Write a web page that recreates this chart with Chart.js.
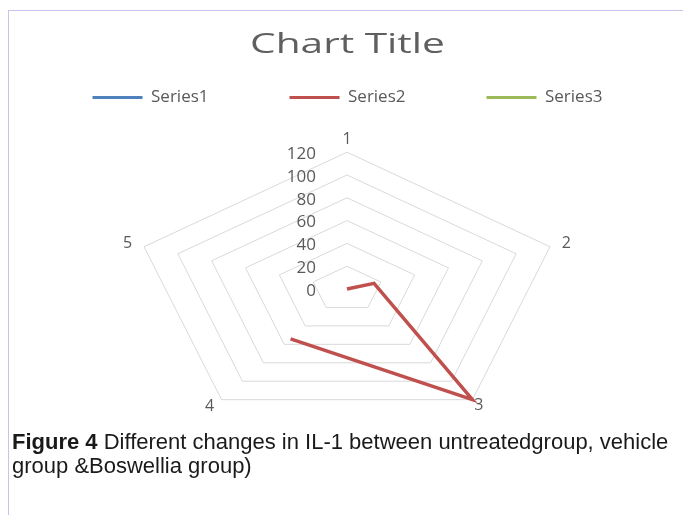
<!DOCTYPE html>
<html>
<head>
<meta charset="utf-8">
<script src="https://cdn.jsdelivr.net/npm/chart.js@4/dist/chart.umd.min.js"></script>
<style>
    html, body { margin: 0; padding: 0; background: #fff; overflow: hidden; width: 683px; height: 515px; }
    #frame { position: absolute; left: 8px; top: 10px; right: 0; bottom: 0; border-top: 1px solid #c4c4ee; border-left: 1px solid #c4c4ee; }
    #wrap { position: absolute; left: 6px; top: 0; width: 683px; height: 439px; }
    #caption { position: absolute; left: 12px; top: 430px; width: 671px; font-family: "Liberation Sans", Arial, sans-serif; font-size: 22px; line-height: 24px; color: #1a1a1a; white-space: nowrap; }
</style>
</head>
<body>
<div id="frame"></div>
<div id="wrap"><canvas id="radarChart"></canvas></div>
<div id="caption"><b>Figure 4</b> Different changes in IL-1 between untreatedgroup, vehicle<br>group &amp;Boswellia group)</div>

<script>
const categories = ['1', '2', '3', '4', '5'];
const series1 = [null, null, null, null, null];
const series2 = [0, 16, 120, 54, null];
const series3 = [null, null, null, null, null];
const tickValues = [0, 20, 40, 60, 80, 100, 120];

// the picture is an Excel radar squeezed into a wide box, so the polygon is wider than tall
const X_STRETCH = 1.56;
const TITLE_STRETCH = 1.45;
const RadialScale = Chart.registry.getScale('radialLinear');
const basePointPosition = RadialScale.prototype.getPointPosition;
RadialScale.prototype.getPointPosition = function (index, distance, extraAngle) {
    const p = basePointPosition.call(this, index, distance, extraAngle);
    return { x: this.xCenter + (p.x - this.xCenter) * X_STRETCH, y: p.y, angle: p.angle };
};

// Excel puts the value labels to the left of the first spoke, 0 included
const tickLabels = {
    id: 'tickLabels',
    afterDraw(chart) {
        const scale = chart.scales.r;
        const ctx = chart.ctx;
        ctx.save();
        ctx.font = '17px "Open Sans"';
        ctx.fillStyle = '#595959';
        ctx.textAlign = 'right';
        ctx.textBaseline = 'middle';
        scale.ticks.forEach(t => {
            const y = scale.yCenter - scale.getDistanceFromCenterForValue(t.value);
            ctx.fillText(t.label, scale.xCenter - 31, y + 2);
        });
        ctx.restore();
    }
};

// title text is stretched sideways like the rest of the picture
const wideTitle = {
    id: 'wideTitle',
    beforeDraw(chart) {
        const box = chart.titleBlock;
        if (!box || box._wide) return;
        const draw = box.draw.bind(box);
        box.draw = function (area) {
            const ctx = chart.ctx;
            const cx = (box.left + box.right) / 2;
            ctx.save();
            ctx.translate(cx, 0);
            ctx.scale(TITLE_STRETCH, 1);
            ctx.translate(-cx, 0);
            draw(area);
            ctx.restore();
        };
        box._wide = true;
    }
};

new Chart(document.getElementById('radarChart'), {
    type: 'radar',
    data: {
        labels: categories,
        datasets: [
            { label: 'Series1', data: series1, borderColor: '#4F81BD', backgroundColor: '#4F81BD', borderWidth: 3.5, fill: false, pointRadius: 0 },
            { label: 'Series2', data: series2, borderColor: '#C0504D', backgroundColor: '#C0504D', borderWidth: 3.5, fill: false, pointRadius: 0 },
            { label: 'Series3', data: series3, borderColor: '#9BBB59', backgroundColor: '#9BBB59', borderWidth: 3.5, fill: false, pointRadius: 0 }
        ]
    },
    options: {
        responsive: true,
        maintainAspectRatio: false,
        animation: false,
        spanGaps: false,
        layout: { padding: 0 },
        plugins: {
            title: {
                display: true,
                text: 'Chart Title',
                color: '#5f5f5f',
                font: { family: 'Open Sans', size: 28, weight: 'normal' },
                padding: { top: 28, bottom: -53.6 }
            },
            legend: {
                position: 'top',
                labels: {
                    color: '#595959',
                    font: { family: 'Open Sans', size: 17 },
                    boxWidth: 50,
                    boxHeight: 3,
                    padding: 81,
                    generateLabels: chart => Chart.defaults.plugins.legend.labels.generateLabels(chart)
                        .map(item => ({ ...item, fillStyle: item.strokeStyle, lineWidth: 0 }))
                }
            },
            tooltip: { enabled: false }
        },
        scales: {
            r: {
                min: 0,
                max: 120,
                ticks: { stepSize: 20, display: false },
                grid: { color: '#d9d9d9', lineWidth: 1 },
                angleLines: { display: false },
                pointLabels: {
                    color: '#595959',
                    font: ctx => ({ family: 'Open Sans', size: 16, lineHeight: ['23px', '1px', '9px', '1px', '1px'][ctx.index] }),
                    padding: ctx => [1.2, 8, 2, 8, 8][ctx.index]
                }
            }
        }
    },
    plugins: [tickLabels, wideTitle]
});
</script>
</body>
</html>
